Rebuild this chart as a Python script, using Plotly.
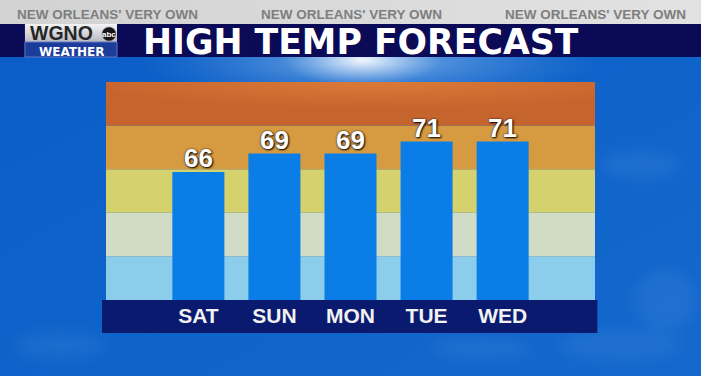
import base64
import plotly.graph_objects as go

# ---- data ----
days = ["SAT", "SUN", "MON", "TUE", "WED"]
highs = [66, 69, 69, 71, 71]
header_text = "NEW ORLEANS' VERY OWN"
title_text = "HIGH TEMP FORECAST"
band_colors = ["#8CCDEB", "#D0DCC6", "#D5D26E", "#D69B41", "#C6642E"]  # bottom -> top

W, H = 701, 376
L, R, T, B = 106, 106.4, 82, 76
PW, PH = W - L - R, H - T - B


def px(x):
    return (x - L) / PW


def py(y):
    return (H - B - y) / PH


FONT = "Liberation Sans, Arial, Helvetica, sans-serif"
WIDE = "DejaVu Sans, Verdana, sans-serif"

bg_svg = f"""<svg xmlns="http://www.w3.org/2000/svg" width="{W}" height="{H}" viewBox="0 0 {W} {H}" preserveAspectRatio="none">
<defs>
<linearGradient id="sky" x1="0" y1="0" x2="1" y2="1">
<stop offset="0" stop-color="#0A5CC6"/><stop offset="0.5" stop-color="#0E63CA"/><stop offset="1" stop-color="#1468CD"/>
</linearGradient>
<radialGradient id="glow1"><stop offset="0" stop-color="#8FBDEE" stop-opacity="0.85"/><stop offset="1" stop-color="#4F8FDA" stop-opacity="0"/></radialGradient>
<radialGradient id="glow2"><stop offset="0" stop-color="#FFFFFF" stop-opacity="0.9"/><stop offset="0.5" stop-color="#D6E6F8" stop-opacity="0.45"/><stop offset="1" stop-color="#A8C8F0" stop-opacity="0"/></radialGradient>
<linearGradient id="gray" x1="0" y1="0" x2="1" y2="0">
<stop offset="0" stop-color="#D2D2D2"/><stop offset="0.5" stop-color="#DADADA"/><stop offset="1" stop-color="#E2E2E2"/>
</linearGradient>
<linearGradient id="logo" x1="0" y1="0" x2="0" y2="1">
<stop offset="0" stop-color="#F4F4F6"/><stop offset="1" stop-color="#B8B8C0"/>
</linearGradient>
<filter id="blur"><feGaussianBlur stdDeviation="7"/></filter>
</defs>
<rect x="0" y="0" width="{W}" height="{H}" fill="url(#sky)"/>
<g filter="url(#blur)" fill="#FFFFFF" fill-opacity="0.06">
<ellipse cx="640" cy="165" rx="40" ry="14"/>
<ellipse cx="665" cy="300" rx="30" ry="30"/>
<ellipse cx="620" cy="345" rx="60" ry="14"/>
<ellipse cx="480" cy="348" rx="50" ry="10"/>
<ellipse cx="60" cy="345" rx="45" ry="12"/>
</g>
<ellipse cx="370" cy="62" rx="230" ry="42" fill="url(#glow1)"/>
<ellipse cx="362" cy="60" rx="80" ry="26" fill="url(#glow2)"/>
<rect x="0" y="0" width="{W}" height="24" fill="url(#gray)"/>
<rect x="0" y="24" width="{W}" height="33" fill="#0A0A56"/>
<rect x="25" y="24" width="92" height="18" fill="url(#logo)"/>
</svg>"""

band_glow_svg = """<svg xmlns="http://www.w3.org/2000/svg" width="488" height="44" viewBox="0 0 488 44" preserveAspectRatio="none">
<defs><radialGradient id="g" cx="0.55" cy="0" r="0.6"><stop offset="0" stop-color="#F09040" stop-opacity="0.5"/><stop offset="1" stop-color="#F09040" stop-opacity="0"/></radialGradient></defs>
<rect x="0" y="0" width="488" height="44" fill="url(#g)"/>
</svg>"""


def data_uri(svg):
    return "data:image/svg+xml;base64," + base64.b64encode(svg.encode()).decode()


fig = go.Figure()
fig.add_trace(go.Bar(
    x=days, y=highs,
    marker=dict(color="#0A7EE6", line=dict(width=0)),
    hoverinfo="skip",
))

shapes = []
# colour bands of the chart panel
for i, c in enumerate(band_colors):
    shapes.append(dict(type="rect", xref="paper", yref="paper", x0=0, x1=1,
                       y0=i / 5, y1=(i + 1) / 5, fillcolor=c, line=dict(width=0), layer="below"))
# label strip
shapes.append(dict(type="rect", xref="paper", yref="paper", x0=px(102), x1=px(597),
                   y0=py(300), y1=py(333), fillcolor="#0A1A6E", line=dict(width=0), layer="below"))
# logo
shapes.append(dict(type="rect", xref="paper", yref="paper", x0=px(25), x1=px(117),
                   y0=py(42), y1=py(57), fillcolor="#1C3C9C", line=dict(color="#5F78C0", width=1), layer="below"))
shapes.append(dict(type="circle", xref="paper", yref="paper", x0=px(102), x1=px(116),
                   y0=py(27), y1=py(41), fillcolor="#151515", line=dict(color="#888888", width=0.5), layer="below"))

annotations = []
# value labels above bars
for d, v in zip(days, highs):
    annotations.append(dict(text=str(v), x=d, y=v, xref="x", yref="y", showarrow=False,
                            xanchor="center", yanchor="middle", yshift=13.5,
                            font=dict(family=FONT, size=26, color="#FFFFFF", weight="bold",
                                      shadow="0px 0px 2px #1a1a1a, 1px 1px 2px #000000")))
for cx in (107.5, 351, 595):
    annotations.append(dict(text=header_text, x=px(cx), y=py(13.8), xref="paper", yref="paper",
                            showarrow=False, xanchor="center", yanchor="middle", height=14,
                            font=dict(family=FONT, size=13.5, color="#7E7E7E", weight="bold")))
annotations.append(dict(text=title_text, x=px(360.5), y=py(42.3), xref="paper", yref="paper",
                        showarrow=False, xanchor="center", yanchor="middle", height=30,
                        font=dict(family=WIDE, size=34.7, color="#FFFFFF", weight="bold")))
annotations.append(dict(text="WGNO", x=px(61.5), y=py(33), xref="paper", yref="paper",
                        showarrow=False, xanchor="center", yanchor="middle", height=15,
                        font=dict(family=FONT, size=19.5, color="#262626", weight="bold")))
annotations.append(dict(text="abc", x=px(109), y=py(34), xref="paper", yref="paper",
                        showarrow=False, xanchor="center", yanchor="middle", height=9,
                        font=dict(family=FONT, size=8, color="#FFFFFF", weight="bold")))
annotations.append(dict(text="WEATHER", x=px(71.5), y=py(51.2), xref="paper", yref="paper",
                        showarrow=False, xanchor="center", yanchor="middle", height=11,
                        font=dict(family=WIDE, size=12, color="#FFFFFF", weight="bold")))

images = [
    dict(source=data_uri(bg_svg), xref="paper", yref="paper", x=px(0), y=py(0),
         sizex=W / PW, sizey=H / PH, sizing="stretch", xanchor="left", yanchor="top", layer="below"),
    dict(source=data_uri(band_glow_svg), xref="paper", yref="paper", x=0, y=1,
         sizex=1, sizey=0.2, sizing="stretch", xanchor="left", yanchor="top", layer="above"),
]

fig.update_layout(
    width=W, height=H,
    margin=dict(l=L, r=R, t=T, b=B, pad=0),
    paper_bgcolor="#0E63CA",
    plot_bgcolor="rgba(0,0,0,0)",
    bargap=0.316,
    showlegend=False,
    hovermode=False,
    shapes=shapes,
    annotations=annotations,
    images=images,
    xaxis=dict(type="category", range=[-1.214, 5.214], showgrid=False, zeroline=False,
               showline=False, ticks="", fixedrange=True, ticklabelstandoff=1,
               tickfont=dict(family=FONT, size=21, color="#F2F2F2", weight="bold")),
    yaxis=dict(range=[45, 80.74], visible=False, fixedrange=True),
)

fig.write_html("out.html", config={"displayModeBar": False})
